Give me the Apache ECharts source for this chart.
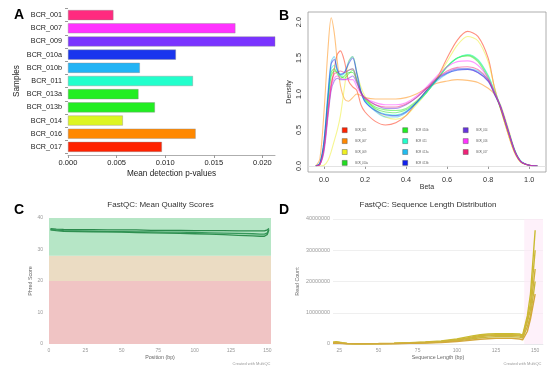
<!DOCTYPE html>
<html><head><meta charset="utf-8">
<script src="https://cdn.jsdelivr.net/npm/echarts@6/dist/echarts.min.js"></script>
<style>html,body{margin:0;padding:0;background:#fff}#c{width:550px;height:373px}</style>
</head><body><div id="c"></div>
<script>
// ---- Panel A: mean detection p-values ----
const samples = ['BCR_001','BCR_007','BCR_009','BCR_010a','BCR_010b','BCR_011','BCR_013a','BCR_013b','BCR_014','BCR_016','BCR_017'];
const pvalues = [0.00467,0.01722,0.0222,0.0111,0.00739,0.01285,0.00725,0.00894,0.00564,0.01313,0.00966];
const barColors = ['#ff2a7f','#ff33ff','#7a33ff','#1a35ee','#22b4f5','#22ffcc','#22ee22','#22ee22','#ddf522','#ff8800','#ff2200'];
const pTicks = [0,0.005,0.01,0.015,0.02];

// ---- Panel B: beta density ----
const beta = [-0.04,-0.02,0,0.02,0.035,0.05,0.065,0.08,0.10,0.12,0.14,0.16,0.18,0.20,0.25,0.30,0.35,0.40,0.45,0.50,0.55,0.60,0.65,0.70,0.75,0.80,0.83,0.86,0.90,0.93,0.96,1.00,1.04];
const d001  = [0,0.02,0.25,0.75,1.1,1.35,1.55,1.6,1.45,1.18,1.1,1.05,0.85,0.75,0.62,0.57,0.6,0.7,0.88,1.05,1.22,1.5,1.75,1.87,1.8,1.5,1.1,0.8,0.42,0.18,0.05,0.01,0];
const d007  = [0,0.1,0.75,1.65,2.06,1.85,1.45,1.12,0.93,0.9,0.95,1.0,0.98,0.95,0.93,0.93,0.93,0.95,1.0,1.08,1.15,1.18,1.2,1.19,1.16,1.08,1.0,0.85,0.5,0.22,0.06,0.01,0];
const d009  = [0,0,0.01,0.08,0.2,0.35,0.5,0.7,1.1,1.45,1.52,1.3,1.1,0.97,0.78,0.68,0.65,0.7,0.85,1.02,1.22,1.45,1.68,1.8,1.74,1.45,1.1,0.8,0.42,0.18,0.05,0.01,0];
const d010a = [0,0.03,0.3,0.95,1.3,1.35,1.28,1.22,1.25,1.3,1.3,1.18,1.02,0.92,0.8,0.75,0.74,0.78,0.88,1.02,1.2,1.38,1.5,1.53,1.45,1.22,1.02,0.8,0.45,0.2,0.06,0.01,0];
const d010b = [0,0.03,0.3,0.9,1.25,1.32,1.3,1.25,1.22,1.28,1.33,1.2,1.03,0.93,0.82,0.78,0.77,0.8,0.9,1.03,1.2,1.38,1.5,1.54,1.47,1.25,1.04,0.82,0.47,0.21,0.06,0.01,0];
const d011  = [0,0.03,0.3,0.95,1.35,1.4,1.32,1.25,1.28,1.33,1.35,1.2,1.02,0.9,0.78,0.72,0.71,0.76,0.87,1.02,1.2,1.38,1.5,1.55,1.48,1.26,1.05,0.84,0.48,0.22,0.07,0.01,0];
const d013a = [0,0.04,0.35,1.05,1.45,1.52,1.35,1.28,1.3,1.45,1.52,1.3,1.05,0.9,0.76,0.68,0.68,0.74,0.87,1.04,1.18,1.28,1.34,1.35,1.32,1.2,1.02,0.83,0.47,0.21,0.06,0.01,0];
const d013b = [0,0.04,0.35,1.0,1.42,1.48,1.33,1.27,1.3,1.42,1.5,1.28,1.03,0.89,0.77,0.71,0.7,0.75,0.88,1.05,1.2,1.29,1.33,1.34,1.3,1.18,1.0,0.82,0.46,0.2,0.06,0.01,0];
const d014  = [0,0.02,0.2,0.7,1.05,1.18,1.22,1.2,1.2,1.22,1.25,1.15,1.02,0.95,0.85,0.8,0.8,0.85,0.95,1.08,1.22,1.3,1.35,1.35,1.3,1.18,1.02,0.83,0.47,0.21,0.06,0.01,0];
const d016  = [0,0.02,0.22,0.75,1.1,1.22,1.25,1.22,1.2,1.2,1.2,1.1,1.0,0.94,0.88,0.85,0.85,0.88,0.97,1.1,1.25,1.38,1.45,1.46,1.4,1.22,1.03,0.82,0.46,0.2,0.06,0.01,0];
const d017  = [0,0.02,0.25,0.8,1.15,1.28,1.3,1.32,1.3,1.33,1.35,1.18,1.02,0.94,0.85,0.82,0.82,0.86,0.95,1.08,1.22,1.32,1.37,1.38,1.34,1.2,1.02,0.82,0.46,0.2,0.06,0.01,0];
const densityColors = ['#ff2200','#ff8800','#eeee22','#22dd22','#22ee22','#22ffcc','#22bbee','#1122ee','#6633dd','#ff33ff','#ee2277'];
const betaTicks = [0,0.2,0.4,0.6,0.8,1.0];
const densTicks = [0,0.5,1.0,1.5,2.0];

// ---- Panel C: FastQC mean quality ----
const qPos = [1,5,10,20,30,40,50,60,70,80,90,100,110,120,130,140,145,148,150,151];
const qTop = [36.6,36.5,36.4,36.3,36.3,36.2,36.2,36.2,36.1,36.1,36.1,36.0,36.0,36.0,35.9,35.9,35.9,35.9,36.2,36.7];
const qMid = [36.3,36.2,36.0,35.9,35.8,35.7,35.7,35.6,35.6,35.5,35.5,35.4,35.3,35.2,35.1,35.0,34.9,34.9,35.3,36.4];
const qLow = [36.2,36.0,35.8,35.7,35.6,35.6,35.5,35.4,35.3,35.2,35.1,35.0,34.9,34.7,34.5,34.3,34.2,34.2,34.8,36.2];
const qTicks = [0,25,50,75,100,125,150];

// ---- Panel D: sequence length distribution ----
const lenPos = [21,23,25,27,30,35,40,50,60,70,80,90,100,105,110,115,120,125,130,135,140,142,145,147,150];
const len1 = [0.6,0.7,0.6,0.4,0.2,0.1,0.1,0.15,0.25,0.4,0.65,1.0,1.6,2.1,2.6,3.0,3.2,3.3,3.3,3.3,3.2,2.8,9,16,36.4];
const len2 = [0.5,0.6,0.5,0.3,0.15,0.1,0.1,0.12,0.2,0.35,0.55,0.85,1.4,1.8,2.3,2.7,2.9,3.0,3.0,3.0,2.9,2.5,8,13,30];
const len3 = [0.4,0.5,0.4,0.25,0.12,0.08,0.08,0.1,0.18,0.3,0.5,0.75,1.2,1.6,2.0,2.4,2.6,2.7,2.7,2.7,2.6,2.2,7,11,24];
const len4 = [0.3,0.4,0.35,0.2,0.1,0.05,0.05,0.08,0.15,0.25,0.4,0.6,1.0,1.3,1.7,2.0,2.2,2.3,2.3,2.3,2.2,1.9,5.5,9,20];
const len5 = [0.2,0.3,0.25,0.15,0.08,0.05,0.05,0.06,0.1,0.2,0.3,0.45,0.8,1.0,1.3,1.5,1.7,1.8,1.8,1.8,1.6,1.3,4,8,16];
const lenTicks = [25,50,75,100,125,150];

const densArrays = [d001,d007,d009,d010a,d010b,d011,d013a,d013b,d014,d016,d017];
const F = 'Liberation Sans, Arial, sans-serif';

const densitySeries = samples.map((n,i)=>({
  name:n, type:'line', xAxisIndex:1, yAxisIndex:1,
  data: beta.map((b,j)=>[b, densArrays[i][j]]),
  smooth:0.3, showSymbol:false, symbol:'none',
  itemStyle:{color:densityColors[i]},
  lineStyle:{color:densityColors[i], width:1.1, opacity:0.5},
  z:3
}));
densitySeries[0].markLine = {silent:true, symbol:'none', label:{show:false},
  lineStyle:{color:'#dcdcdc', width:0.8, type:'solid'}, data:[{yAxis:0}]};

const qLines = [qTop,qMid,qLow].map((arr,k)=>({
  type:'line', xAxisIndex:2, yAxisIndex:2, showSymbol:false, symbol:'none',
  data: qPos.map((p,j)=>[p, arr[j]]),
  lineStyle:{color:['#2a8a4c','#35975a','#2f8f50'][k], width:1.3}, z:3
}));
qLines[0].markArea = {silent:true, data:[
  [{yAxis:0, itemStyle:{color:'#f0c4c4'}},{yAxis:20}],
  [{yAxis:20, itemStyle:{color:'#ebdcc3'}},{yAxis:28}],
  [{yAxis:28, itemStyle:{color:'#b6e6c6'}},{yAxis:40}]
]};

const lenLines = [len1,len2,len3,len4,len5].map((arr,k)=>({
  type:'line', xAxisIndex:3, yAxisIndex:3, showSymbol:false, symbol:'none',
  data: lenPos.map((p,j)=>[p, arr[j]*1e6]),
  lineStyle:{color:['#c9bb30','#cdb935','#d0b23a','#c8b83a','#d4a83c'][k], width:1.4}, z:3
}));
lenLines[0].markArea = {silent:true, data:[
  [{xAxis:143, itemStyle:{color:'rgba(253,232,247,0.6)'}},{xAxis:155}]
]};

const legendBase = {orient:'vertical', icon:'rect', itemWidth:5, itemHeight:5, itemGap:5.5,
  padding:0, textStyle:{fontSize:2.6, color:'#555', fontFamily:F, padding:[0,0,0,3]},
  itemStyle:{borderColor:'#444', borderWidth:0.4, opacity:1}, selectedMode:false};

const option = {
  animation:false,
  textStyle:{fontFamily:F},
  title:[
    {text:'A', left:14, top:8, padding:0, textStyle:{fontSize:14, fontWeight:'bold', color:'#000', fontFamily:F}},
    {text:'B', left:279, top:9, padding:0, textStyle:{fontSize:14, fontWeight:'bold', color:'#000', fontFamily:F}},
    {text:'C', left:14, top:203, padding:0, textStyle:{fontSize:14, fontWeight:'bold', color:'#000', fontFamily:F}},
    {text:'D', left:279, top:203, padding:0, textStyle:{fontSize:14, fontWeight:'bold', color:'#000', fontFamily:F}},
    {text:'FastQC: Mean Quality Scores', left:160.5, top:201, textAlign:'center', padding:0,
      textStyle:{fontSize:8, fontWeight:'normal', color:'#333', fontFamily:F}},
    {text:'FastQC: Sequence Length Distribution', left:428, top:200.5, textAlign:'center', padding:0,
      textStyle:{fontSize:8, fontWeight:'normal', color:'#333', fontFamily:F}},
    {text:'Created with MultiQC', left:270.5, top:361.5, textAlign:'right', padding:0,
      textStyle:{fontSize:4, fontWeight:'normal', color:'#999', fontFamily:F}},
    {text:'Created with MultiQC', left:541.5, top:361.5, textAlign:'right', padding:0,
      textStyle:{fontSize:4, fontWeight:'normal', color:'#999', fontFamily:F}}
  ],
  legend:[
    Object.assign({}, legendBase, {left:342, top:127.5, data:samples.slice(0,4)}),
    Object.assign({}, legendBase, {left:402.5, top:127.5, data:samples.slice(4,8)}),
    Object.assign({}, legendBase, {left:463, top:127.5, data:samples.slice(8,11)})
  ],
  grid:[
    {left:68, top:8.5, width:207, height:145},
    {left:308, top:12, width:238, height:160, show:true, borderColor:'#9a9a9a', borderWidth:0.8, backgroundColor:'transparent'},
    {left:49, top:218, width:222, height:126},
    {left:333, top:219, width:210, height:125}
  ],
  xAxis:[
    {gridIndex:0, type:'value', min:0, max:0.0213, offset:1.5,
      axisLine:{show:true, lineStyle:{color:'#999', width:0.8}},
      axisTick:{show:true, length:3, lineStyle:{color:'#999'}, customValues:pTicks},
      axisLabel:{customValues:pTicks, formatter:v=>v.toFixed(3), fontSize:7.5, color:'#222', margin:4},
      splitLine:{show:false},
      name:'Mean detection p-values', nameLocation:'middle', nameGap:15, nameTextStyle:{fontSize:8.2, color:'#222'}},
    {gridIndex:1, type:'value', min:-0.078, max:1.082,
      axisLine:{show:false},
      axisTick:{show:true, inside:false, length:3, lineStyle:{color:'#999'}, customValues:betaTicks},
      axisLabel:{customValues:betaTicks, formatter:v=>v.toFixed(1), fontSize:7.3, color:'#333', margin:4},
      splitLine:{show:false},
      name:'Beta', nameLocation:'middle', nameGap:12, nameTextStyle:{fontSize:7, color:'#333'}},
    {gridIndex:2, type:'value', min:0, max:152.5,
      axisLine:{show:false}, axisTick:{show:false},
      axisLabel:{customValues:qTicks, fontSize:5, color:'#999', margin:4},
      splitLine:{show:false},
      name:'Position (bp)', nameLocation:'middle', nameGap:11, nameTextStyle:{fontSize:5.3, color:'#666'}},
    {gridIndex:3, type:'value', min:21, max:155,
      axisLine:{show:true, lineStyle:{color:'#e3e3ea', width:0.6}}, axisTick:{show:false},
      axisLabel:{customValues:lenTicks, fontSize:5, color:'#999', margin:4},
      splitLine:{show:false},
      name:'Sequence Length (bp)', nameLocation:'middle', nameGap:11.5, nameTextStyle:{fontSize:5.3, color:'#666'}}
  ],
  yAxis:[
    {gridIndex:0, type:'category', data:samples, inverse:true,
      axisLine:{show:false}, axisTick:{show:true, length:3, lineStyle:{color:'#999'}},
      axisLabel:{fontSize:7.2, color:'#222', margin:6},
      name:'Samples', nameLocation:'middle', nameGap:47, nameTextStyle:{fontSize:8.2, color:'#222'}},
    {gridIndex:1, type:'value', min:-0.084, max:2.14,
      axisLine:{show:false},
      axisTick:{show:false},
      axisLabel:{customValues:densTicks, formatter:v=>v.toFixed(1), fontSize:7.3, color:'#333', margin:6, rotate:90},
      splitLine:{show:false},
      name:'Density', nameLocation:'middle', nameGap:15, nameTextStyle:{fontSize:7, color:'#333'}},
    {gridIndex:2, type:'value', min:0, max:40, interval:10,
      axisLine:{show:false}, axisTick:{show:false},
      axisLabel:{fontSize:5, color:'#999', margin:6},
      splitLine:{show:true, lineStyle:{color:'rgba(255,255,255,0.35)', width:0.6}},
      name:'Phred Score', nameLocation:'middle', nameGap:15, nameTextStyle:{fontSize:5.3, color:'#666'}},
    {gridIndex:3, type:'value', min:0, max:40000000, interval:10000000,
      axisLine:{show:false}, axisTick:{show:false},
      axisLabel:{fontSize:5.4, color:'#999', margin:3, formatter:v=>String(v)},
      splitLine:{show:true, lineStyle:{color:'#e8e8e8', width:0.7}},
      name:'Read Count', nameLocation:'middle', nameGap:33, nameTextStyle:{fontSize:5.3, color:'#666'}}
  ],
  series:[
    {type:'bar', name:'pvalue', xAxisIndex:0, yAxisIndex:0, clip:true, barCategoryGap:'24%',
      data: pvalues.map((v,i)=>({value:v, itemStyle:{color:barColors[i]}})),
      itemStyle:{borderColor:'#8a8a8a', borderWidth:0.4}},
    ...densitySeries,
    ...qLines,
    ...lenLines
  ]
};
const chart = echarts.init(document.getElementById('c'), null, {renderer:'canvas'});
chart.setOption(option);
</script></body></html>
